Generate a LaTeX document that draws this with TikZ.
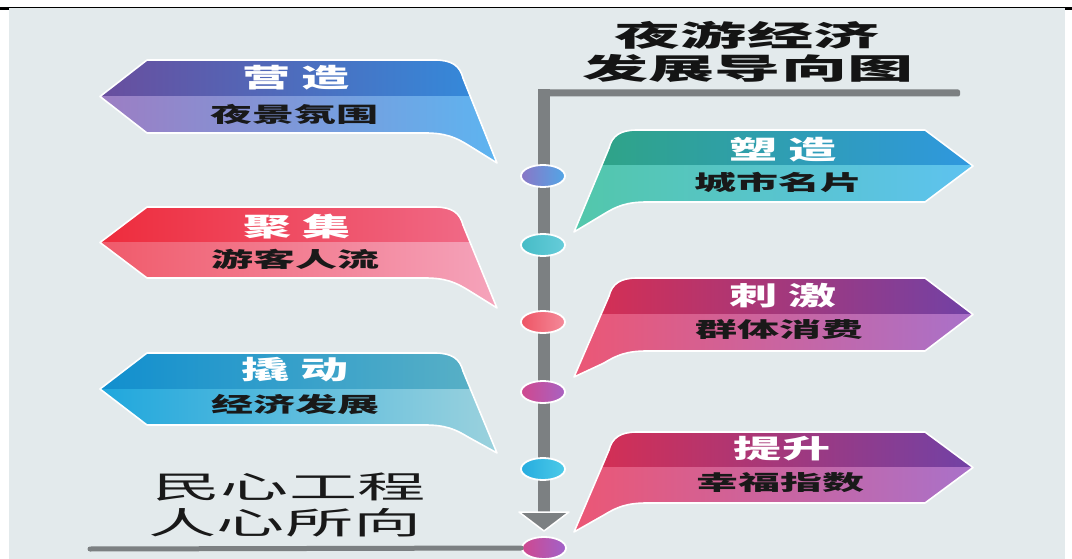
\documentclass[tikz,border=0pt]{standalone}
\usepackage{fontspec}
\usepackage{graphicx}
\usetikzlibrary{shapes.geometric}
\newfontfamily\cjk{Noto Sans CJK SC}
\definecolor{bg}{HTML}{E3EAEC}
\definecolor{gline}{HTML}{7C8082}
\definecolor{ua1}{HTML}{6A4C9C}\definecolor{ua2}{HTML}{2F8FE0}
\definecolor{la1}{HTML}{9E7CC2}\definecolor{la2}{HTML}{5BB6F2}
\definecolor{ub1}{HTML}{EE2A3A}\definecolor{ub2}{HTML}{F0708E}
\definecolor{lb1}{HTML}{F05868}\definecolor{lb2}{HTML}{F5A6BE}
\definecolor{uc1}{HTML}{0F8ECF}\definecolor{uc2}{HTML}{5FB3C5}
\definecolor{lc1}{HTML}{1CA6DD}\definecolor{lc2}{HTML}{9FD3DD}
\definecolor{ud1}{HTML}{2FA57E}\definecolor{ud2}{HTML}{2F97E2}
\definecolor{ld1}{HTML}{52C7A8}\definecolor{ld2}{HTML}{5EC2F2}
\definecolor{ue1}{HTML}{DE2D4C}\definecolor{ue2}{HTML}{6E42A8}
\definecolor{le1}{HTML}{EE5672}\definecolor{le2}{HTML}{A772CC}
\definecolor{c1a}{HTML}{8A76C6}\definecolor{c1b}{HTML}{52A6E6}
\definecolor{c2a}{HTML}{46BCC6}\definecolor{c2b}{HTML}{66CCDA}
\definecolor{c3a}{HTML}{EE5464}\definecolor{c3b}{HTML}{F48A9A}
\definecolor{c4a}{HTML}{D0488E}\definecolor{c4b}{HTML}{A862C2}
\definecolor{c5a}{HTML}{26ACDF}\definecolor{c5b}{HTML}{4CCAE8}
\definecolor{c6a}{HTML}{D0488E}\definecolor{c6b}{HTML}{A062CA}
% left banner path: #1 top, #2 bottom, #3 tail tip y
\newcommand{\LPath}[3]{(100,{(#1+#2)/2}) -- (147,#1) -- (435,#1) .. controls (452,#1) and (460,{#1+6}) .. (463,{#1+18}) -- (497,#3) -- (468,{#2+12}) .. controls (455,{#2+4}) and (445,#2) .. (425,#2) -- (147,#2) -- cycle}
% right banner path
\newcommand{\RPath}[3]{(973,{(#1+#2)/2}) -- (925,#1) -- (637,#1) .. controls (620,#1) and (612,{#1+6}) .. (609,{#1+18}) -- (574,#3) -- (604,{#2+12}) .. controls (617,{#2+4}) and (627,#2) .. (647,#2) -- (925,#2) -- cycle}
\begin{document}
\begin{tikzpicture}[x=1pt,y=-1pt,
  bborder/.style={draw=white, line width=1.6pt, line join=round},
  dot/.style={ellipse, minimum width=44pt, minimum height=22pt, inner sep=0, draw=white, line width=1.8pt},
  upt/.style={font=\cjk\bfseries\fontsize{26}{26}\selectfont, text=white, inner sep=0},
  lowt/.style={font=\cjk\bfseries\fontsize{21}{21}\selectfont, text=black!90, inner sep=0},
  titlet/.style={font=\cjk\bfseries\fontsize{29}{29}\selectfont, text=black!92, inner sep=0},
  bigt/.style={font=\cjk\fontsize{31}{31}\selectfont, text=black!90, inner sep=0}]
\useasboundingbox (0,0) rectangle (1072,559);
\fill[white] (0,0) rectangle (1072,559);
\fill[bg] (9,8) rectangle (1065,559);
\draw[black, line width=1.5pt] (0,7.5) -- (1072,7.5);
\draw[black, line width=2pt] (0,9.5) -- (9,9.5);
\draw[black, line width=2pt] (1065,9.5) -- (1072,9.5);

% title
\node[titlet] (t1) at (747,35) {\scalebox{2.28}[1]{夜游经济}};
\node[titlet] (t2) at (748,68) {\scalebox{2.28}[1]{发展导向图}};

% axis line
\coordinate (axtop) at (544,93);
\coordinate (axright) at (958,93);
\coordinate (axend) at (544,514);
\fill[gline] (538,89.5) rectangle (550,516);
\fill[gline, rounded corners=2pt] (538,89.5) rectangle (960,96.5);

% left banners
\begin{scope}
\clip \LPath{60}{133}{163};
\shade[left color=ua1, right color=ua2] (90,50) rectangle (510,96.5);
\shade[left color=la1, right color=la2] (90,96.5) rectangle (510,175);
\end{scope}
\draw[bborder] \LPath{60}{133}{163};

\begin{scope}
\clip \LPath{207}{278}{308};
\shade[left color=ub1, right color=ub2] (90,197) rectangle (510,242.5);
\shade[left color=lb1, right color=lb2] (90,242.5) rectangle (510,320);
\end{scope}
\draw[bborder] \LPath{207}{278}{308};

\begin{scope}
\clip \LPath{353}{425}{453};
\shade[left color=uc1, right color=uc2] (90,343) rectangle (510,389);
\shade[left color=lc1, right color=lc2] (90,389) rectangle (510,465);
\end{scope}
\draw[bborder] \LPath{353}{425}{453};

% right banners
\begin{scope}
\clip \RPath{130}{202}{232};
\shade[left color=ud1, right color=ud2] (560,120) rectangle (985,166);
\shade[left color=ld1, right color=ld2] (560,166) rectangle (985,245);
\end{scope}
\draw[bborder] \RPath{130}{202}{232};

\begin{scope}
\clip \RPath{278}{351}{377};
\shade[left color=ue1, right color=ue2] (560,268) rectangle (985,314.5);
\shade[left color=le1, right color=le2] (560,314.5) rectangle (985,390);
\end{scope}
\draw[bborder] \RPath{278}{351}{377};

\begin{scope}
\clip \RPath{432}{503}{532};
\shade[left color=ue1, right color=ue2] (560,422) rectangle (985,467.5);
\shade[left color=le1, right color=le2] (560,467.5) rectangle (985,545);
\end{scope}
\draw[bborder] \RPath{432}{503}{532};

% banner texts
\node[upt] (a1) at (296,78) {\scalebox{1.85}[1]{营\hspace{6pt}造}};
\node[lowt] (a2) at (294,114) {\scalebox{2.0}[1]{夜景氛围}};
\node[upt] (b1) at (297,227) {\scalebox{1.85}[1]{聚\hspace{6pt}集}};
\node[lowt] (b2) at (295,259) {\scalebox{2.0}[1]{游客人流}};
\node[upt] (c1) at (295,370) {\scalebox{1.85}[1]{撬\hspace{6pt}动}};
\node[lowt] (c2) at (295,405) {\scalebox{2.0}[1]{经济发展}};
\node[upt] (d1t) at (783,150) {\scalebox{1.85}[1]{塑\hspace{6pt}造}};
\node[lowt] (d2t) at (778,182) {\scalebox{2.0}[1]{城市名片}};
\node[upt] (e1) at (783,296) {\scalebox{1.85}[1]{刺\hspace{6pt}激}};
\node[lowt] (e2) at (779,330) {\scalebox{2.0}[1]{群体消费}};
\node[upt] (f1) at (782,449) {\scalebox{1.85}[1]{提升}};
\node[lowt] (f2) at (780,483) {\scalebox{2.0}[1]{幸福指数}};

% slogan
\node[bigt] (s1) at (289,487) {\scalebox{2.2}[1]{民心工程}};
\node[bigt] (s2) at (285,523) {\scalebox{2.2}[1]{人心所向}};

% dots
\node[dot, left color=c1a, right color=c1b] (d1) at (543,176) {};
\node[dot, left color=c2a, right color=c2b] (d2) at (543,245) {};
\node[dot, left color=c3a, right color=c3b] (d3) at (543,322) {};
\node[dot, left color=c4a, right color=c4b] (d4) at (543,392) {};
\node[dot, left color=c5a, right color=c5b] (d5) at (543,469) {};
\node[dot, left color=c6a, right color=c6b] (d6) at (544,548) {};

% bottom line and arrow head
\coordinate (bl) at (90,549);
\draw[gline, line width=5pt, line cap=round] (bl) -- (d6.west);
\filldraw[fill=gline, draw=white, line width=1.5pt, line join=round] (519,512) -- (569,512) -- (544,531) -- cycle;
\end{tikzpicture}
\end{document}
